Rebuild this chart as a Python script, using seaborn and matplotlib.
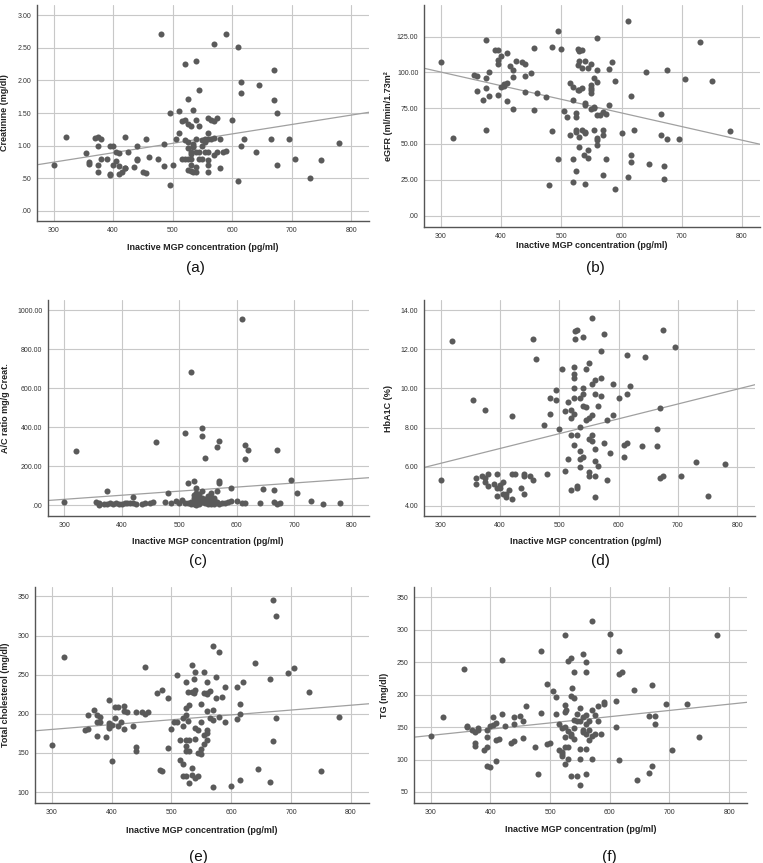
import numpy as np
import pandas as pd
import matplotlib
matplotlib.use("Agg")
import matplotlib.pyplot as plt
from matplotlib.ticker import FuncFormatter
import seaborn as sns

# (a) creatinine
x_a = [300, 320, 355, 360, 360, 370, 375, 375, 375, 375, 380, 380, 390, 395, 395, 395, 400, 400, 405, 405,
       410, 410, 410, 415, 420, 420, 420, 425, 435, 440, 440, 440, 450, 455, 455, 460, 475, 480, 485, 485,
       495, 495, 500, 505, 510, 510, 515, 515, 520, 520, 520, 520, 525, 525, 525, 525, 525, 525, 530, 530,
       530, 530, 530, 530, 535, 535, 535, 535, 535, 540, 540, 540, 540, 540, 540, 545, 545, 545, 545, 550,
       550, 550, 555, 555, 555, 560, 560, 560, 560, 560, 560, 560, 565, 565, 570, 570, 570, 570, 575, 575,
       580, 580, 585, 590, 590, 600, 610, 610, 615, 615, 615, 620, 640, 645, 665, 670, 670, 675, 675, 695,
       705, 730, 750, 780]
y_a = [0.70, 1.13, 0.89, 0.75, 0.72, 1.12, 1.13, 1.00, 0.70, 0.60, 1.10, 0.80, 0.79, 1.00, 0.57, 0.55, 0.99, 0.70, 0.90, 0.76,
       0.88, 0.68, 0.56, 0.59, 1.13, 0.66, 0.65, 0.90, 0.67, 1.00, 0.79, 0.77, 0.59, 0.58, 1.10, 0.82, 0.80, 2.71, 1.03, 0.68,
       1.50, 0.40, 0.70, 1.10, 1.20, 1.53, 1.37, 0.80, 2.26, 1.40, 1.09, 0.80, 1.72, 1.33, 0.96, 0.80, 1.06, 0.62, 1.30, 0.90,
       0.80, 0.70, 0.61, 0.87, 1.54, 1.00, 1.03, 0.60, 0.98, 2.30, 1.39, 1.10, 0.90, 0.67, 0.60, 1.86, 1.30, 0.90, 0.80, 1.08,
       0.80, 0.99, 1.10, 0.90, 1.05, 1.42, 1.20, 1.10, 0.90, 0.78, 0.70, 0.60, 1.40, 1.10, 2.56, 1.37, 1.12, 0.86, 1.42, 0.90,
       1.10, 0.65, 0.90, 2.71, 0.92, 1.40, 2.51, 0.46, 1.98, 1.80, 1.00, 1.10, 0.90, 1.93, 1.10, 2.16, 1.70, 1.50, 0.70, 1.10,
       0.80, 0.50, 0.78, 1.04]

# (b) eGFR
x_b = [300, 320, 355, 360, 360, 370, 375, 375, 375, 375, 380, 380, 390, 395, 395, 395, 395, 400, 400, 405,
       405, 410, 410, 410, 415, 420, 420, 420, 425, 435, 440, 440, 440, 450, 455, 455, 460, 475, 480, 485,
       485, 495, 495, 500, 505, 510, 515, 515, 520, 520, 520, 520, 525, 525, 525, 525, 525, 527, 527, 527,
       530, 530, 530, 530, 530, 535, 535, 535, 535, 537, 540, 540, 540, 540, 540, 540, 545, 545, 545, 550,
       550, 550, 550, 550, 550, 555, 555, 555, 555, 560, 560, 560, 560, 560, 560, 560, 565, 570, 570, 570,
       570, 575, 575, 580, 580, 585, 590, 590, 600, 610, 610, 615, 615, 615, 620, 640, 645, 665, 665, 670,
       670, 675, 675, 695, 705, 730, 750, 780]
y_b = [107.0, 53.9, 98.4, 97.2, 86.8, 80.5, 89.3, 95.8, 122.7, 59.7, 100.0, 83.3, 115.4, 115.4, 108.9, 105.9, 84.2, 111.5, 89.6, 92.1,
       90.7, 113.6, 92.8, 80.0, 104.2, 101.9, 96.8, 74.2, 108.0, 107.5, 105.9, 97.5, 86.1, 99.3, 117.0, 73.5, 85.8, 83.0, 21.5, 117.8,
       59.0, 128.7, 39.6, 116.6, 72.8, 68.8, 92.8, 56.4, 89.8, 80.5, 39.6, 23.1, 71.6, 68.8, 59.7, 58.5, 31.2, 116.4, 105.0, 88.0,
       115.0, 108.0, 88.0, 47.6, 54.8, 115.9, 102.8, 89.0, 59.7, 42.4, 108.0, 78.6, 77.2, 58.3, 57.4, 22.2, 102.8, 46.0, 40.3, 105.6,
       91.0, 89.0, 87.5, 85.8, 74.4, 95.8, 75.8, 74.9, 59.7, 123.8, 101.9, 93.5, 70.4, 54.3, 52.9, 49.4, 70.4, 56.4, 72.5, 59.5,
       28.4, 71.1, 39.2, 102.6, 77.2, 107.0, 94.2, 18.7, 57.4, 135.7, 26.8, 83.5, 42.2, 37.3, 59.9, 100.0, 36.1, 70.9, 56.4, 25.2,
       34.3, 101.9, 53.6, 53.2, 95.6, 121.3, 93.8, 59.2]

# (c) A/C ratio
x_c = [300, 320, 355, 360, 360, 370, 375, 375, 380, 385, 390, 395, 400, 405, 410, 415, 420, 420, 425, 435,
       440, 450, 455, 460, 475, 480, 485, 495, 500, 505, 510, 510, 515, 515, 520, 520, 520, 525, 525, 525,
       525, 525, 530, 530, 530, 530, 530, 535, 535, 535, 535, 540, 540, 540, 540, 540, 545, 545, 545, 550,
       550, 550, 550, 555, 555, 555, 555, 560, 560, 560, 560, 565, 565, 565, 570, 570, 570, 570, 575, 580,
       585, 590, 590, 600, 610, 610, 615, 615, 615, 620, 640, 645, 665, 665, 670, 670, 675, 695, 705, 730,
       750, 780]
y_c = [19, 280, 15, 10, 3, 7, 75, 9, 12, 8, 10, 6, 9, 11, 10, 14, 43, 12, 9, 8,
       10, 12, 15, 323, 15, 65, 10, 20, 11, 27, 371, 12, 113, 10, 684, 18, 8, 123, 53, 36,
       12, 4, 87, 62, 30, 10, 3, 60, 40, 27, 8, 398, 357, 75, 36, 15, 240, 30, 10, 50,
       32, 18, 5, 63, 40, 22, 8, 35, 28, 12, 4, 300, 72, 15, 330, 123, 115, 5, 10, 12,
       15, 91, 20, 22, 954, 14, 308, 235, 12, 284, 10, 86, 77, 19, 285, 9, 12, 130, 65, 24,
       8, 10]

# (d) HbA1C
x_d = [300, 320, 355, 360, 360, 370, 375, 375, 375, 380, 380, 390, 395, 395, 395, 400, 400, 405, 405, 410,
       410, 415, 420, 420, 420, 425, 435, 440, 440, 440, 450, 455, 455, 460, 475, 480, 485, 485, 495, 495,
       500, 505, 510, 510, 515, 515, 520, 520, 520, 520, 525, 525, 525, 525, 525, 525, 525, 527, 527, 530,
       530, 530, 530, 535, 535, 535, 535, 535, 540, 540, 540, 540, 540, 545, 545, 545, 550, 550, 550, 550,
       550, 555, 555, 555, 555, 555, 560, 560, 560, 560, 560, 560, 565, 565, 570, 570, 570, 575, 575, 580,
       580, 585, 590, 590, 600, 610, 610, 615, 615, 615, 620, 640, 645, 665, 665, 670, 670, 675, 675, 695,
       705, 730, 750, 780]
y_d = [5.31, 12.43, 9.41, 5.42, 5.11, 5.52, 8.91, 5.43, 5.23, 5.62, 5.01, 5.11, 5.62, 4.51, 4.92, 4.92, 5.04, 5.21, 4.61, 4.60,
       4.43, 4.82, 5.62, 4.32, 8.61, 5.62, 4.92, 5.62, 5.50, 4.61, 5.52, 5.31, 12.52, 11.53, 8.11, 5.62, 9.53, 8.71, 9.43, 9.91,
       7.91, 11.01, 8.83, 5.79, 9.30, 6.41, 8.91, 8.50, 7.60, 4.82, 11.12, 10.72, 10.52, 10.02, 9.51, 8.71, 7.11, 12.52, 12.94, 13.00,
       7.60, 5.01, 4.92, 9.51, 8.01, 6.82, 6.41, 6.00, 10.02, 9.72, 12.62, 9.12, 6.49, 11.01, 8.40, 9.05, 11.32, 8.50, 7.41, 5.72,
       5.52, 7.31, 7.60, 13.59, 10.25, 8.62, 10.42, 9.72, 6.92, 6.30, 5.52, 4.43, 9.12, 6.01, 11.92, 10.52, 9.61, 12.81, 7.21, 8.40,
       5.31, 6.71, 10.21, 8.62, 9.51, 6.51, 7.11, 11.71, 9.72, 7.21, 10.11, 7.05, 11.61, 7.91, 7.05, 9.02, 5.42, 13.01, 5.52, 12.12,
       5.52, 6.22, 4.51, 6.12]

# (e) total cholesterol
x_e = [300, 320, 355, 360, 360, 370, 375, 375, 375, 380, 380, 390, 395, 395, 395, 395, 400, 400, 405, 405,
       410, 410, 415, 420, 420, 420, 425, 435, 440, 440, 440, 450, 455, 455, 460, 475, 480, 485, 485, 495,
       495, 500, 505, 510, 510, 515, 515, 520, 520, 520, 520, 525, 525, 525, 525, 525, 525, 525, 527, 527,
       530, 530, 530, 530, 535, 535, 535, 535, 537, 537, 540, 540, 540, 540, 540, 545, 545, 545, 550, 550,
       550, 550, 555, 555, 555, 555, 560, 560, 560, 560, 560, 560, 560, 565, 565, 570, 570, 570, 570, 575,
       575, 580, 580, 585, 590, 590, 600, 610, 610, 615, 615, 615, 620, 640, 645, 665, 665, 670, 670, 675,
       675, 695, 705, 730, 750, 780]
y_e = [160, 273, 179, 180, 199, 205, 198, 190, 171, 196, 190, 170, 218, 188, 185, 182, 186, 140, 195, 209,
       209, 185, 190, 210, 204, 181, 202, 185, 202, 157, 153, 202, 260, 200, 202, 226, 128, 230, 127, 220,
       156, 180, 189, 249, 189, 166, 141, 185, 136, 195, 120, 241, 207, 199, 167, 159, 152, 120, 228, 191,
       211, 166, 152, 112, 262, 228, 131, 122, 244, 227, 253, 231, 182, 168, 118, 179, 120, 150, 212, 190,
       155, 148, 253, 227, 173, 162, 241, 227, 225, 203, 179, 176, 167, 229, 194, 286, 205, 192, 107, 247,
       220, 279, 196, 222, 234, 190, 108, 234, 193, 213, 200, 116, 240, 265, 129, 244, 113, 346, 165, 325,
       195, 252, 258, 228, 127, 196]

# (f) TG
x_f = [300, 320, 355, 360, 360, 370, 375, 375, 375, 380, 380, 390, 395, 395, 395, 395, 400, 400, 405, 405,
       410, 410, 410, 415, 420, 420, 425, 435, 440, 440, 440, 450, 455, 455, 460, 475, 480, 485, 485, 495,
       495, 500, 505, 510, 510, 515, 515, 520, 520, 520, 520, 525, 525, 525, 525, 525, 525, 525, 527, 530,
       530, 530, 530, 535, 535, 535, 535, 535, 537, 540, 540, 540, 540, 540, 545, 545, 545, 550, 550, 550,
       550, 550, 555, 555, 555, 555, 560, 560, 560, 560, 560, 560, 560, 565, 565, 565, 570, 570, 570, 570,
       575, 575, 580, 580, 585, 590, 590, 600, 610, 610, 615, 615, 615, 620, 640, 645, 665, 665, 670, 670,
       675, 675, 695, 705, 730, 750, 780]
y_f = [136, 165, 239, 152, 150, 145, 143, 125, 121, 146, 148, 114, 145, 134, 120, 90, 152, 89, 165, 154,
       156, 130, 98, 132, 253, 170, 151, 126, 129, 165, 155, 167, 160, 133, 182, 120, 78, 268, 172, 217,
       124, 125, 205, 196, 170, 155, 115, 149, 112, 108, 105, 292, 184, 174, 150, 135, 119, 93, 177, 252,
       144, 120, 101, 257, 198, 140, 136, 75, 210, 235, 195, 161, 148, 132, 170, 160, 75, 180, 160, 116,
       101, 60, 263, 166, 146, 143, 250, 235, 168, 155, 139, 116, 77, 160, 145, 130, 313, 176, 137, 101,
       168, 140, 182, 160, 140, 188, 186, 294, 190, 150, 268, 232, 100, 235, 207, 69, 167, 79, 215, 90,
       167, 155, 185, 114, 185, 134, 292]

x_label = "Inactive MGP concentration (pg/ml)"
panels = [
    # x, y, ylabel, yticks, ylim, letter, axes rect (px: left, top, right, bottom), int ticks
    (x_a, y_a, "Creatinine (mg/dl)", np.arange(0, 3.01, 0.5), (-0.16, 3.16), "(a)", (37, 5, 369, 221), False),
    (x_b, y_b, "eGFR (ml/min/1.73m\u00b2", np.arange(0, 126, 25), (-8, 147), "(b)", (424, 5, 760, 227), False),
    (x_c, y_c, "A/C ratio mg/g Creat.", np.arange(0, 1001, 200), (-55, 1053), "(c)", (48, 300, 369, 516), False),
    (x_d, y_d, "HbA1C (%)", np.arange(4, 14.01, 2), (3.47, 14.53), "(d)", (424, 300, 755, 516), False),
    (x_e, y_e, "Total cholesterol (mg/dl)", np.arange(100, 351, 50), (86, 362), "(e)", (35, 587, 369, 803), True),
    (x_f, y_f, "TG (mg/dl)", np.arange(50, 351, 50), (33, 366), "(f)", (414, 587, 747, 803), True),
]
ylab_off = [28, 31, 38, 31, 25, 25]
xlab_pos = [(203, 247), (592, 245), (208, 542), (586, 542), (202, 830), (581, 829)]
letter_pos = [(195, 268), (595, 268), (198, 561), (600, 561), (198, 857), (609, 857)]

W, H = 763, 863
sns.set_style("white")
plt.rcParams["font.family"] = ["Liberation Sans", "DejaVu Sans"]
fig = plt.figure(figsize=(W / 100, H / 100), dpi=100)


def spss_fmt(v, pos):
    s = f"{v:.2f}"
    if s.startswith("0."):
        s = s[1:]
    return s


for i, (xs, ys, ylab, yt, ylim, letter, (l, t, r, b), as_int) in enumerate(panels):
    ax = fig.add_axes([l / W, (H - b) / H, (r - l) / W, (b - t) / H])
    ax.set_xlim(272, 830)
    ax.set_ylim(*ylim)
    df = pd.DataFrame({"x": xs, "y": ys})
    sns.regplot(data=df, x="x", y="y", ax=ax, ci=None, truncate=False,
                scatter_kws=dict(s=19, color="#5a5a5a", linewidths=0, alpha=1, zorder=3),
                line_kws=dict(color="#a0a0a0", lw=0.9, zorder=2))
    ax.set_xticks([300, 400, 500, 600, 700, 800])
    ax.set_yticks(yt)
    if as_int:
        ax.yaxis.set_major_formatter(FuncFormatter(lambda v, p: f"{v:.0f}"))
    else:
        ax.yaxis.set_major_formatter(FuncFormatter(spss_fmt))
    ax.tick_params(length=0, labelsize=5, colors="#333333", pad=4)
    ax.grid(True, color="#c8c8c8", lw=0.8)
    ax.set_axisbelow(True)
    for side in ["top", "right"]:
        ax.spines[side].set_visible(False)
    for side in ["left", "bottom"]:
        ax.spines[side].set_color("#555555")
        ax.spines[side].set_linewidth(1.0)
    ax.set_xlabel("")
    ax.set_ylabel(ylab, fontsize=6.5, fontweight="bold", color="#222222")
    ax.yaxis.set_label_coords(-ylab_off[i] / (r - l), 0.5)
    fig.text(xlab_pos[i][0] / W, 1 - xlab_pos[i][1] / H, x_label, ha="center", va="center",
             fontsize=6.5, fontweight="bold", color="#222222")
    fig.text(letter_pos[i][0] / W, 1 - letter_pos[i][1] / H, letter, ha="center", va="center",
             fontsize=11, color="#111111")

fig.savefig("out.png", dpi=100)
